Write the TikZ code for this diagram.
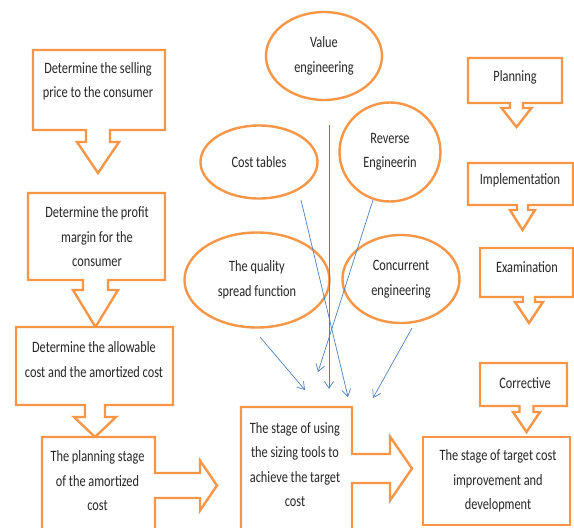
\documentclass[tikz,border=0pt]{standalone}
\usepackage{fontspec}
\setmainfont{Carlito}[FakeStretch=0.78]
\usetikzlibrary{arrows.meta,shapes.geometric}
\definecolor{org}{HTML}{F79646}
\definecolor{blu}{HTML}{4F81BD}
\definecolor{ink}{HTML}{262626}
\newcommand\dcall[9]{%
 \draw[callout] (#1,#2) -- (#3,#2) -- (#3,#4) -- ({#5+#6},#4) -- ({#5+#6},#8) -- ({#5+#7},#8) -- (#5,#9) -- ({#5-#7},#8) -- ({#5-#6},#8) -- ({#5-#6},#4) -- (#1,#4) -- cycle;}
\newcommand\rcall[9]{%
 \draw[callout] (#1,#2) -- (#3,#2) -- (#3,{#5-#6}) -- (#8,{#5-#6}) -- (#8,{#5-#7}) -- (#9,#5) -- (#8,{#5+#7}) -- (#8,{#5+#6}) -- (#3,{#5+#6}) -- (#3,#4) -- (#1,#4) -- cycle;}
\tikzset{
 callout/.style={draw=org, line width=2.4pt, line join=miter, fill=white},
 txt/.style={align=center, text=ink, font=\fontsize{15.8}{24.5}\selectfont, inner sep=0pt},
 ell/.style={ellipse, draw=org, line width=2.4pt, align=center, text=ink, font=\fontsize{15.8}{24.5}\selectfont, inner sep=0pt},
 tool/.style={draw=blu, line width=0.7pt, -{Straight Barb[length=7pt,width=9pt,line width=0.7pt]}}
}
\begin{document}
\begin{tikzpicture}[x=1pt,y=-1pt]
\useasboundingbox (0,0) rectangle (574,528);
\clip (0,0) rectangle (574,528);
\fill[white] (0,0) rectangle (574,528);
% left column
\dcall{33}{50}{165}{130}{98}{12}{21}{142}{173}
\dcall{28}{193}{165}{280}{95.5}{12.5}{22.5}{290}{327}
\dcall{16}{327}{173}{405}{95}{10}{21}{417}{437}
\rcall{42}{437}{155}{545}{485.5}{12.5}{25}{200}{217}
\rcall{241}{407}{352}{545}{468.5}{14.5}{32}{390}{412}
\draw[callout] (423,437) rectangle (570,525);
% right column
\dcall{468}{58}{562}{103}{516.5}{6.5}{15}{108}{127}
\dcall{468}{163}{573}{205}{522.5}{5.5}{12.5}{210}{230}
\dcall{480}{248}{573}{297}{529}{6}{14}{302}{323}
\dcall{480}{363}{567}{406}{526.5}{7}{13.5}{412}{432}
% texts
\node[txt] (sell) at (98,81.5) {Determine the selling\\price to the consumer};
\node[txt] (profit) at (97,237) {Determine the profit\\margin for the\\consumer};
\node[txt] (allow) at (94,359.5) {Determine the allowable\\cost and the amortized cost};
\node[txt] (plan) at (97.5,481) {The planning stage\\of the amortized\\cost};
\node[txt] (sizing) at (295,464.5) {The stage of using\\the sizing tools to\\achieve the target\\cost};
\node[txt] (improve) at (498,481) {The stage of target cost\\improvement and\\development};
\node[txt] (corr) at (525,383) {Corrective};
\node[txt] (planning) at (515,77) {Planning};
\node[txt] (impl) at (520,180) {Implementation};
\node[txt] (exam) at (527,267) {Examination};
% ellipses
\node[ell, minimum width=116, minimum height=88] (ve) at (324,56) {Value\\engineering};
\node[ell, minimum width=117, minimum height=73] (ct) at (259,162) {Cost tables};
\node[ell, minimum width=101, minimum height=99] (re) at (390,152) {Reverse\\Engineerin};
\node[ell, minimum width=145, minimum height=95] (qs) at (257,280) {The quality\\spread function};
\node[ell, minimum width=117, minimum height=88] (ce) at (401,279) {Concurrent\\engineering};
% connectors
\coordinate (ve-a) at (329,125); \coordinate (ve-b) at (329,389);
\coordinate (ct-a) at (301,200); \coordinate (ct-b) at (348,397);
\coordinate (re-a) at (373,200); \coordinate (re-b) at (318,372);
\coordinate (qs-a) at (260,337); \coordinate (qs-b) at (305,390);
\coordinate (ce-a) at (412,328); \coordinate (ce-b) at (373,398);
\draw[tool] (ve-a) -- (ve-b);
\draw[tool] (ct-a) -- (ct-b);
\draw[tool] (re-a) -- (re-b);
\draw[tool] (qs-a) -- (qs-b);
\draw[tool] (ce-a) -- (ce-b);
\end{tikzpicture}
\end{document}
